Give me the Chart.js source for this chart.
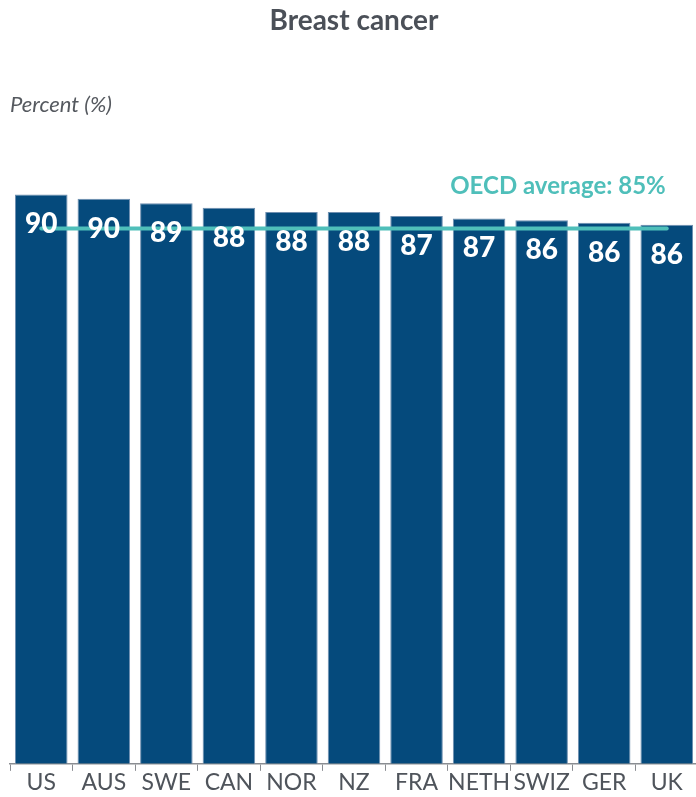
<!DOCTYPE html>
<html>
<head>
<meta charset="utf-8">
<script src="https://cdn.jsdelivr.net/npm/chart.js@4.4.1/dist/chart.umd.min.js"></script>
<style>
  html, body { margin: 0; padding: 0; background: #fff; overflow: hidden; }
  #wrap { width: 700px; height: 797px; }
</style>
</head>
<body>
<div id="wrap"><canvas id="chart" width="700" height="797"></canvas></div>
<script>
// ---------------- Data -----------------
const countries = ['US', 'AUS', 'SWE', 'CAN', 'NOR', 'NZ', 'FRA', 'NETH', 'SWIZ', 'GER', 'UK'];
const survival = [90.4, 89.7, 89.0, 88.3, 87.6, 87.6, 87.0, 86.6, 86.3, 85.9, 85.6];
const oecdAverage = 85;

const BAR_COLOR = '#054a7c';
const TEAL = '#4fbfba';
const TEXT_GREY = '#4b5058';
const FONT = 'Lato, "Open Sans", sans-serif';

// title, unit note and OECD label drawn on the canvas
const textPlugin = {
    id: 'texts',
    afterDraw(chart) {
        const ctx = chart.ctx;
        const area = chart.chartArea;
        ctx.save();
        ctx.textBaseline = 'middle';

        ctx.fillStyle = TEXT_GREY;
        ctx.textAlign = 'center';
        ctx.font = `bold 28px ${FONT}`;
        ctx.fillText('Breast cancer', (area.left + area.right) / 2, 21);

        ctx.fillStyle = '#55595f';
        ctx.textAlign = 'left';
        ctx.font = `italic 22px ${FONT}`;
        ctx.fillText('Percent (%)', 10, 105);

        // OECD label sits above the right end of the average line
        const lineMeta = chart.getDatasetMeta(0);
        const last = lineMeta.data[lineMeta.data.length - 1];
        ctx.fillStyle = TEAL;
        ctx.textAlign = 'right';
        ctx.font = `bold 24px ${FONT}`;
        ctx.fillText(`OECD average: ${oecdAverage}%`, last.x - 1, 186);
        ctx.restore();
    }
};

// white value labels inside the bars, over the average line
const barLabels = {
    id: 'barLabels',
    afterDatasetsDraw(chart) {
        const ctx = chart.ctx;
        const meta = chart.getDatasetMeta(1);
        ctx.save();
        ctx.fillStyle = '#ffffff';
        ctx.textAlign = 'center';
        ctx.textBaseline = 'middle';
        ctx.font = `900 28px ${FONT}`;
        meta.data.forEach((bar, i) => {
            ctx.fillText(Math.round(survival[i]), bar.x, bar.y + 30);
        });
        ctx.restore();
    }
};

new Chart(document.getElementById('chart'), {
    data: {
        labels: countries,
        datasets: [
            {
                type: 'line',
                label: 'OECD average',
                data: countries.map(() => oecdAverage),
                borderColor: TEAL,
                borderWidth: 4,
                borderCapStyle: 'round',
                pointRadius: 0,
                order: 0
            },
            {
                type: 'bar',
                label: 'Breast cancer survival',
                data: survival,
                backgroundColor: BAR_COLOR,
                borderColor: '#6f8fb0',
                borderWidth: { top: 1, left: 1, right: 1, bottom: 0 },
                barPercentage: 0.84,
                categoryPercentage: 1,
                order: 1
            }
        ]
    },
    options: {
        responsive: false,
        animation: false,
        devicePixelRatio: 1,
        layout: { padding: { top: 134, left: 10, right: 2, bottom: 2 } },
        plugins: {
            legend: { display: false },
            tooltip: { enabled: false },
            title: { display: false }
        },
        scales: {
            x: {
                offset: true,
                grid: {
                    offset: true,
                    drawOnChartArea: false,
                    drawTicks: true,
                    tickLength: 7,
                    color: '#8a8d92'
                },
                border: { display: true, color: '#8a8d92', width: 1.5 },
                ticks: {
                    color: '#4f545b',
                    font: { family: FONT, size: 23, lineHeight: 1.05 },
                    padding: 0,
                    maxRotation: 0,
                    autoSkip: false
                }
            },
            y: {
                display: false,
                min: 0,
                max: 100
            }
        }
    },
    plugins: [textPlugin, barLabels]
});
</script>
</body>
</html>
